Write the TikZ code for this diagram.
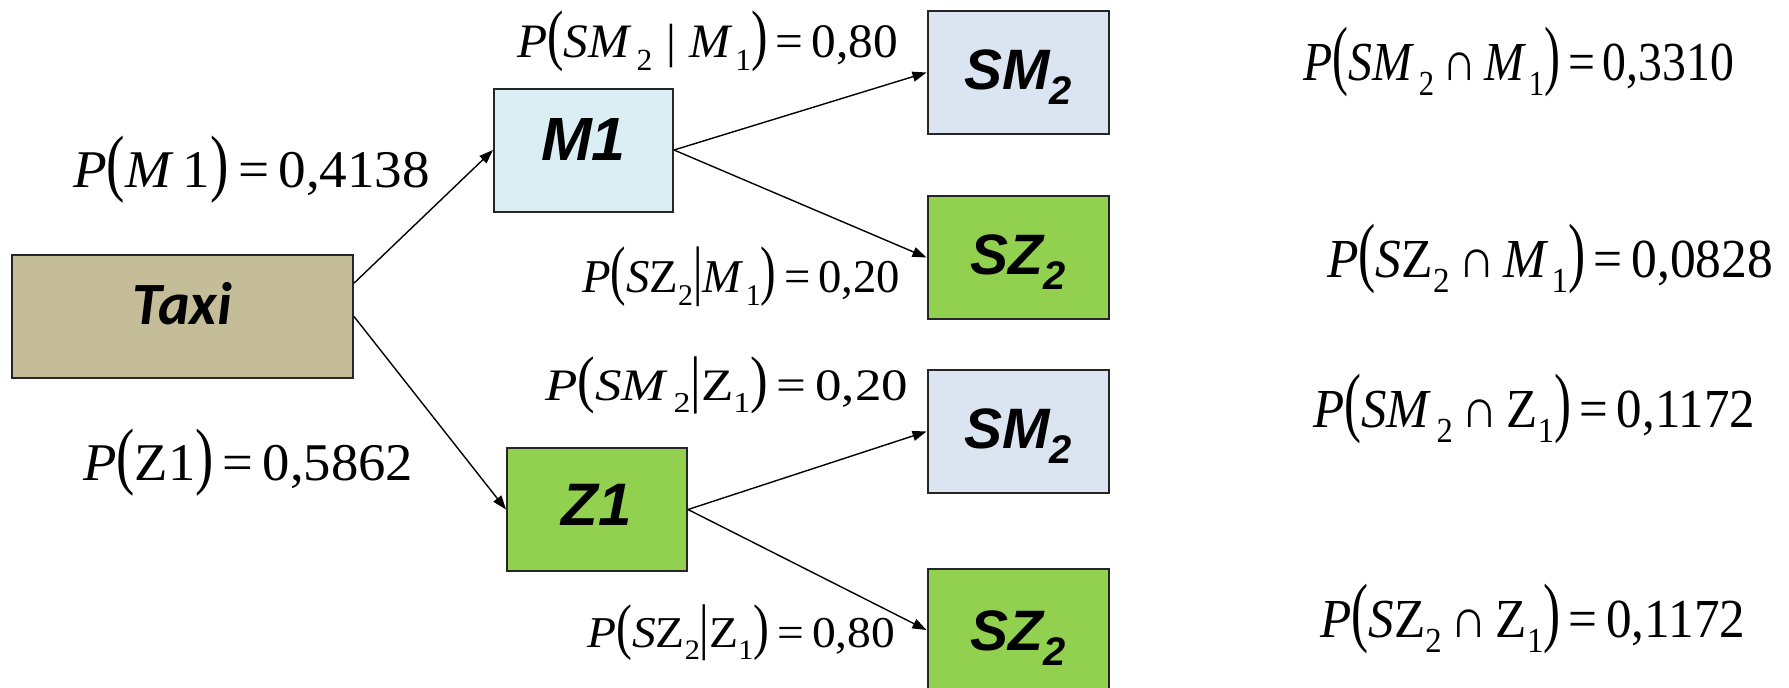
\documentclass[tikz,border=0pt]{standalone}
\usepackage{graphicx}
\usepackage{fontspec}
\setmainfont{Liberation Serif}
\newfontfamily\boxfont{Liberation Sans}
\newfontfamily\taxifont{Carlito}
\usetikzlibrary{arrows.meta}

\definecolor{taxitan}{HTML}{C4BD97}
\definecolor{firstblue}{HTML}{DBEEF4}
\definecolor{leafblue}{HTML}{DBE5F1}
\definecolor{leafgreen}{HTML}{92D050}
\definecolor{frame}{HTML}{262626}

% tall brackets, bar and lowered indices of the probability formulas
\newcommand\lpar{\scalebox{1}[1.4]{(}}
\newcommand\rpar{\scalebox{1}[1.4]{)}}
\newcommand\cbar{\scalebox{1}[1.4]{|}}
\newcommand\isect{\,∩\,}
\newcommand\idx[1]{\raisebox{-0.28em}{\scalebox{0.64}{#1}}}
\newcommand\bidx[1]{\raisebox{-0.28em}{\scalebox{0.7}{#1}}}
% one formula: name, left end, baseline, width, font size, text
\newcommand\formula[6]{%
  \node[anchor=base west, inner sep=0pt] (#1) at (#2,#3)
    {\resizebox{#4pt}{\height}{\fontsize{#5}{#5}\selectfont #6}};}

\tikzset{
  box/.style={draw=frame, line width=2pt, inner sep=0pt,
    minimum width=181pt, minimum height=123pt,
    font=\boxfont\fontsize{57}{57}\selectfont\bfseries\itshape,
    text height=41pt, text depth=8pt},
  link/.style={line width=1.4pt, -{Triangle[length=14pt,width=10pt]}},
}

\begin{document}
\begin{tikzpicture}[x=1pt, y=-1pt]
\useasboundingbox (0,0) rectangle (1789,688);

% decision tree boxes
\node[box, fill=taxitan, minimum width=341pt, text height=39pt, text depth=24pt,
      font=\taxifont\fontsize{60}{60}\selectfont\bfseries\itshape]
      (taxi) at (182.5,316.5) {Taxi};
\node[box, fill=firstblue, minimum width=179pt, text height=44pt, text depth=24pt,
      font=\boxfont\fontsize{61}{61}\selectfont\bfseries\itshape]
      (m1) at (583.5,150) {M1};
\node[box, fill=leafgreen, minimum width=180pt, text height=43pt, text depth=12pt,
      font=\boxfont\fontsize{60}{60}\selectfont\bfseries\itshape]
      (z1) at (597,509.5) {Z1};
\node[box, fill=leafblue]  (sm2a) at (1018,72.5)  {SM\bidx{2}};
\node[box, fill=leafgreen] (sz2a) at (1018,257.5) {SZ\bidx{2}};
\node[box, fill=leafblue]  (sm2b) at (1018,431.5) {SM\bidx{2}};
\node[box, fill=leafgreen, text depth=1pt] (sz2b) at (1018,630) {SZ\bidx{2}};

% branches
\draw[link] (taxi.11) -- (m1.west);
\draw[link] (taxi.east) -- (z1.west);
\draw[link] (m1.east) -- (sm2a.west);
\draw[link] (m1.east) -- (sz2a.west);
\draw[link] (z1.east) -- (sm2b.west);
\draw[link] (z1.east) -- (sz2b.west);

% branch probabilities
\formula{pm1}{73}{187}{357}{53}{\textit{P}\lpar\textit{M}\,1\rpar\,=\,0,4138}
\formula{pz1}{83}{480}{330}{53}{\textit{P}\lpar Z1\rpar\,=\,0,5862}
\formula{psm2m1}{517}{57}{381}{48}{\textit{P}\lpar\textit{SM}\kern0.1em\idx{2}\;|\;\textit{M}\kern0.05em\idx{1}\rpar\,=\,0,80}
\formula{psz2m1}{582}{292}{318}{47}{\textit{P}\lpar\textit{S}Z\idx{2}\cbar\textit{M}\kern0.05em\idx{1}\rpar\,=\,0,20}
\formula{psm2z1}{545}{400}{363}{45}{\textit{P}\lpar\textit{SM}\kern0.1em\idx{2}\cbar Z\idx{1}\rpar\,=\,0,20}
\formula{psz2z1}{587}{647}{308}{44}{\textit{P}\lpar\textit{S}Z\idx{2}\cbar Z\idx{1}\rpar\,=\,0,80}

% joint probabilities
\formula{j1}{1303}{80}{431}{55}{\textit{P}\lpar\textit{SM}\kern0.1em\idx{2}\isect\textit{M}\kern0.05em\idx{1}\rpar\,=\,0,3310}
\formula{j2}{1327}{277}{446}{55}{\textit{P}\lpar\textit{S}Z\idx{2}\isect\textit{M}\kern0.05em\idx{1}\rpar\,=\,0,0828}
\formula{j3}{1313}{427}{442}{55}{\textit{P}\lpar\textit{SM}\kern0.1em\idx{2}\isect Z\idx{1}\rpar\,=\,0,1172}
\formula{j4}{1320}{637}{425}{55}{\textit{P}\lpar\textit{S}Z\idx{2}\isect Z\idx{1}\rpar\,=\,0,1172}
\end{tikzpicture}
\end{document}
